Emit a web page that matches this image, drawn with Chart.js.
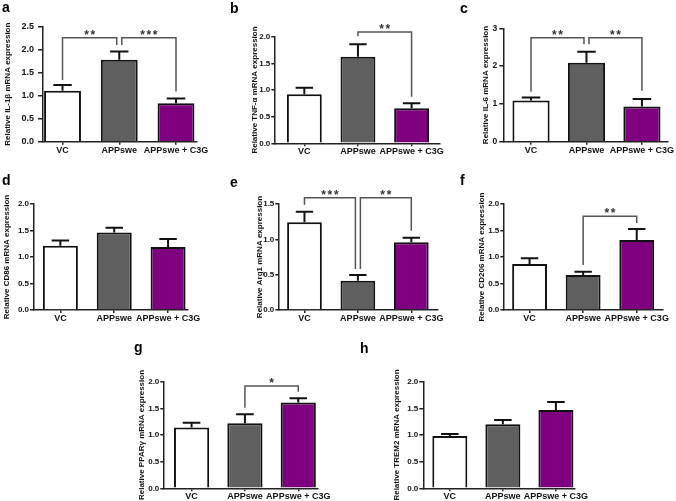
<!DOCTYPE html>
<html><head><meta charset="utf-8">
<script src="https://cdn.jsdelivr.net/npm/chart.js@4"></script>
<style>
html,body{margin:0;padding:0;background:#fff;}
#fig{position:relative;width:676px;height:501px;overflow:hidden;background:#fff;}
#fig canvas{position:absolute;}
.lbl{position:absolute;font:bold 14px "Liberation Sans",Arial,sans-serif;line-height:14px;color:#000;}
</style></head><body><div id="fig"></div>
<script>
// ---------- data ----------
const categories = ['VC', 'APPswe', 'APPswe + C3G'];
const barColors = ['#ffffff', '#5f5f5f', '#7f007f'];

// a: IL-1β
const il1bMean = [1.11, 1.78, 0.835];
const il1bSem  = [0.12, 0.18, 0.105];
const il1bAxis = [2.5, 0.5];           // y max, y step
const il1bSig  = [[0, 1, '**', 2.26, 1.34, 2.10], [1, 2, '***', 2.26, 2.10, 1.09]]; // from, to, label, level, left leg end, right leg end

// b: TNF-α
const tnfMean = [0.92, 1.625, 0.656];
const tnfSem  = [0.12, 0.235, 0.094];
const tnfAxis = [2.0, 0.5];
const tnfSig  = [[1, 2, '**', 2.09, 2.01, 0.875]];

// c: IL-6
const il6Mean = [1.09, 2.09, 0.93];
const il6Sem  = [0.08, 0.29, 0.20];
const il6Axis = [3, 1];
const il6Sig  = [[0, 1, '**', 2.75, 1.32, 2.58], [1, 2, '**', 2.75, 2.58, 1.35]];

// d: CD86
const cd86Mean = [1.21, 1.46, 1.19];
const cd86Sem  = [0.10, 0.09, 0.15];
const cd86Axis = [2.0, 0.5];
const cd86Sig  = [];

// e: Arg1
const arg1Mean = [1.24, 0.415, 0.957];
const arg1Sem  = [0.15, 0.08, 0.065];
const arg1Axis = [1.5, 0.5];
const arg1Sig  = [[0, 1, '***', 1.59, 1.49, 0.58], [1, 2, '**', 1.59, 0.58, 1.12]];

// f: CD206
const cd206Mean = [0.87, 0.66, 1.32];
const cd206Sem  = [0.105, 0.06, 0.21];
const cd206Axis = [2.0, 0.5];
const cd206Sig  = [[1, 2, '**', 1.77, 0.85, 1.64]];

// g: PPARγ
const pparMean = [1.14, 1.22, 1.61];
const pparSem  = [0.09, 0.17, 0.08];
const pparAxis = [2.0, 0.5];
const pparSig  = [[1, 2, '*', 1.92, 1.51, 1.81]];

// h: TREM2
const trem2Mean = [0.98, 1.20, 1.47];
const trem2Sem  = [0.04, 0.08, 0.15];
const trem2Axis = [2.0, 0.5];
const trem2Sig  = [];

const panelLetters = ['a', 'b', 'c', 'd', 'e', 'f', 'g', 'h'];
const yTitles = [
  'Relative IL-1β mRNA expression', 'Relative TNF-α mRNA expression', 'Relative IL-6 mRNA expression',
  'Relative CD86 mRNA expression', 'Relative Arg1 mRNA expression', 'Relative CD206 mRNA expression',
  'Relative PPARγ mRNA expression', 'Relative TREM2 mRNA expression'
];

// ---------- layout (pixels) ----------
const geo = [
  {x0: 43,    x1: 197, yTop: 26.7,  yBot: 141.7, xmin: -0.344, xmax: 2.37, titleX: 8,     bp: 0.65, tk: 5, tp: 4, ts: 9, lx: 2,   lb: 12},
  {x0: 274.3, x1: 440, yTop: 36.7,  yBot: 143.3, xmin: -0.56,  xmax: 2.53, titleX: 255,   bp: 0.65, tk: 3, tp: 1, ts: 8, lx: 230, lb: 13},
  {x0: 503.3, x1: 668, yTop: 28.3,  yBot: 141.7, xmin: -0.50,  xmax: 2.47, titleX: 485.5, bp: 0.67, tk: 4, tp: 2, ts: 8.5, lx: 460, lb: 13},
  {x0: 34,    x1: 188, yTop: 204,   yBot: 310,   xmin: -0.49,  xmax: 2.37, titleX: 6.5,   bp: 0.65, tk: 4, tp: 1, ts: 8, lx: 2,   lb: 185},
  {x0: 278.3, x1: 438, yTop: 204,   yBot: 310,   xmin: -0.49,  xmax: 2.50, titleX: 259.5, bp: 0.65, tk: 3, tp: 1, ts: 8, lx: 230, lb: 187},
  {x0: 503.3, x1: 663, yTop: 204,   yBot: 310,   xmin: -0.49,  xmax: 2.49, titleX: 481.5, bp: 0.65, tk: 3, tp: 1, ts: 8, lx: 460, lb: 185},
  {x0: 163.3, x1: 318, yTop: 381.7, yBot: 488.3, xmin: -0.53,  xmax: 2.37, titleX: 142,   bp: 0.66, tk: 3, tp: 1, ts: 8, lx: 134, lb: 352},
  {x0: 423.3, x1: 575, yTop: 381.7, yBot: 488.3, xmin: -0.50,  xmax: 2.36, titleX: 396.7, bp: 0.66, tk: 4, tp: 1, ts: 8, lx: 360, lb: 353}
];

const panels = [
  [il1bMean, il1bSem, il1bAxis, il1bSig],
  [tnfMean, tnfSem, tnfAxis, tnfSig],
  [il6Mean, il6Sem, il6Axis, il6Sig],
  [cd86Mean, cd86Sem, cd86Axis, cd86Sig],
  [arg1Mean, arg1Sem, arg1Axis, arg1Sig],
  [cd206Mean, cd206Sem, cd206Axis, cd206Sig],
  [pparMean, pparSem, pparAxis, pparSig],
  [trem2Mean, trem2Sem, trem2Axis, trem2Sig]
];

const FONT = '"Liberation Sans", Arial, sans-serif';
const PT = 30, PR = 36, XH = 22, TITLE_SIZE = 8;

const overlay = {
  id: 'overlay',
  afterDatasetsDraw(chart, args, opts) {
    const ctx = chart.ctx, xs = chart.scales.x, ys = chart.scales.y;
    const meta = chart.getDatasetMeta(0);
    const mean = opts.mean, sem = opts.sem, sig = opts.sig;
    ctx.save();
    // error bars (upper only)
    ctx.strokeStyle = '#111';
    ctx.lineWidth = 2;
    mean.forEach((m, i) => {
      const bar = meta.data[i];
      const x = bar.x, half = bar.width * 0.25;
      const y0 = ys.getPixelForValue(m), y1 = ys.getPixelForValue(m + sem[i]);
      ctx.beginPath();
      ctx.moveTo(x, y0); ctx.lineTo(x, y1);
      ctx.moveTo(x - half, y1); ctx.lineTo(x + half, y1);
      ctx.stroke();
    });
    // significance brackets
    sig.forEach((s, k) => {
      const [from, to, label, level, legA, legB] = s;
      let xa = xs.getPixelForValue(from), xb = xs.getPixelForValue(to);
      if (sig.some((o, j) => j !== k && (o[0] === from || o[1] === from))) xa += 2.5;
      if (sig.some((o, j) => j !== k && (o[0] === to || o[1] === to))) xb -= 2.5;
      const yb = ys.getPixelForValue(level);
      ctx.strokeStyle = '#555';
      ctx.lineWidth = 1.5;
      ctx.beginPath();
      ctx.moveTo(xa, ys.getPixelForValue(legA));
      ctx.lineTo(xa, yb);
      ctx.lineTo(xb, yb);
      ctx.lineTo(xb, ys.getPixelForValue(legB));
      ctx.stroke();
      ctx.fillStyle = '#333';
      ctx.font = 'bold 12px ' + FONT;
      ctx.textAlign = 'center';
      ctx.textBaseline = 'alphabetic';
      const n = label.length, sp = 6.3;
      const cx = (xa + xb) / 2;
      for (let c = 0; c < n; c++) {
        ctx.fillText(label[c], cx + (c - (n - 1) / 2) * sp, yb + 1);
      }
    });
    ctx.restore();
  }
};

const fig = document.getElementById('fig');
panels.forEach((p, idx) => {
  const [mean, sem, axis, sig] = p;
  const g = geo[idx];
  const left = Math.round(g.titleX - TITLE_SIZE / 2);
  const top = Math.round(g.yTop - PT);
  const w = Math.round(g.x1 - left + PR);
  const h = Math.round(PT + (g.yBot - g.yTop) + XH);
  const cv = document.createElement('canvas');
  cv.width = w; cv.height = h;
  cv.style.left = left + 'px'; cv.style.top = top + 'px';
  cv.style.width = w + 'px'; cv.style.height = h + 'px';
  fig.appendChild(cv);

  const lab = document.createElement('div');
  lab.className = 'lbl';
  lab.textContent = panelLetters[idx];
  lab.style.left = g.lx + 'px';
  lab.style.top = (g.lb - 12) + 'px';
  fig.appendChild(lab);

  const yw = g.x0 - left;
  const ptTop = g.yTop - top;
  const dec = axis[1] < 1 ? 1 : 0;

  new Chart(cv, {
    type: 'bar',
    data: {
      datasets: [{
        data: mean.map((v, i) => ({x: i, y: v})),
        backgroundColor: barColors,
        borderColor: '#111',
        borderWidth: 2,
        borderSkipped: 'start',
        barPercentage: g.bp,
        categoryPercentage: 1
      }]
    },
    options: {
      responsive: false,
      animation: false,
      devicePixelRatio: 1,
      layout: {padding: {top: ptTop, right: w - (g.x1 - left), left: 0, bottom: h - ptTop - (g.yBot - g.yTop) - XH}},
      plugins: {legend: {display: false}, tooltip: {enabled: false}, overlay: {mean, sem, sig}},
      scales: {
        x: {
          type: 'linear', min: g.xmin, max: g.xmax, offset: false,
          afterBuildTicks: s => { s.ticks = categories.map((c, i) => ({value: i})); },
          afterFit: s => { s.height = XH; },
          ticks: {callback: v => categories[v], font: {family: FONT, size: 9, weight: 'bold'}, color: '#111', padding: 0, autoSkip: false, maxRotation: 0},
          grid: {display: true, offset: false, drawOnChartArea: false, tickLength: 3, color: '#222', lineWidth: 1.5},
          border: {display: true, color: '#222', width: 1.5}
        },
        y: {
          min: 0, max: axis[0],
          afterFit: s => { s.width = yw; },
          ticks: {stepSize: axis[1], callback: v => Number(v).toFixed(dec), font: {family: FONT, size: g.ts, weight: 'bold'}, color: '#111', padding: g.tp},
          title: {display: true, text: yTitles[idx], font: {family: FONT, size: TITLE_SIZE, weight: 'bold', lineHeight: 1}, padding: 0, color: '#111'},
          grid: {display: true, drawOnChartArea: false, tickLength: g.tk, color: '#222', lineWidth: 1.5},
          border: {display: true, color: '#222', width: 1.5}
        }
      }
    },
    plugins: [overlay]
  });
});
</script>
</body></html>
